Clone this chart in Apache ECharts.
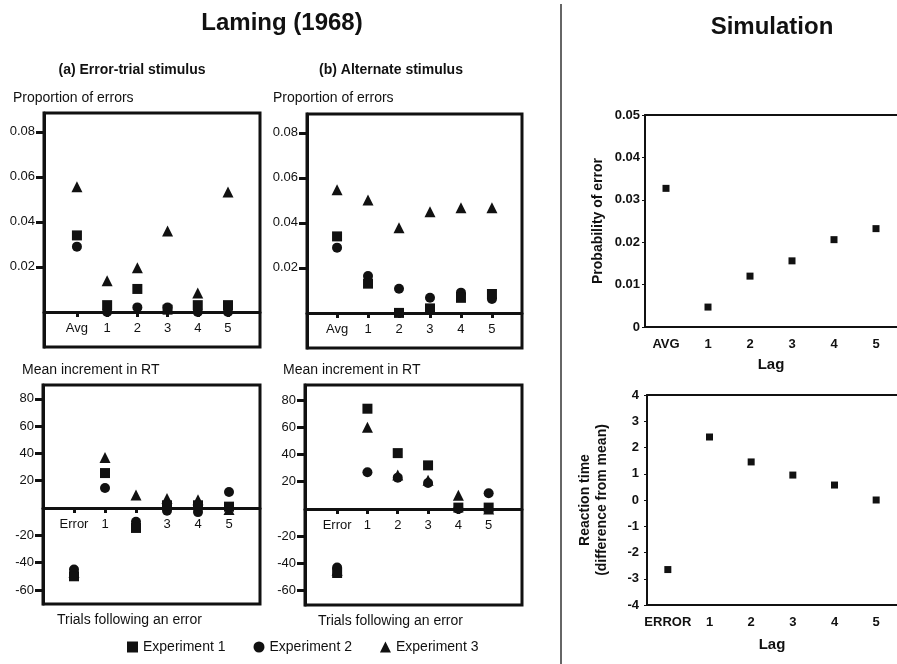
<!DOCTYPE html>
<html>
<head>
<meta charset="utf-8">
<title>Laming (1968) vs Simulation</title>
<script src="https://cdn.jsdelivr.net/npm/echarts@6/dist/echarts.min.js"></script>
<style>
  html, body { margin: 0; padding: 0; background: #fff; }
  #chart { width: 897px; height: 664px; }
</style>
</head>
<body>
<div id="chart"></div>
<script>
// categories
var lamingCats = ['Avg', '1', '2', '3', '4', '5'];
var rtCats = ['Error', '1', '2', '3', '4', '5'];
var simErrCats = ['AVG', '1', '2', '3', '4', '5'];
var simRtCats = ['ERROR', '1', '2', '3', '4', '5'];
var expNames = ['Experiment 1', 'Experiment 2', 'Experiment 3'];

// (a) error-trial stimulus, proportion of errors
var aErrExp1 = [0.034, 0.003, 0.0102, 0.001, 0.003, 0.003];
var aErrExp2 = [0.029, 0.000, 0.002, 0.002, 0.000, 0.000];
var aErrExp3 = [0.0556, 0.0138, 0.0196, 0.036, 0.0084, 0.0533];
// (b) alternate stimulus, proportion of errors
var bErrExp1 = [0.034, 0.013, 0.000, 0.002, 0.0067, 0.0084];
var bErrExp2 = [0.029, 0.0164, 0.0107, 0.0067, 0.009, 0.0062];
var bErrExp3 = [0.0547, 0.0502, 0.0378, 0.045, 0.0467, 0.0467];
// (a) mean increment in RT
var aRtExp1 = [-50, 25.6, -14.6, 2, 2, 1];
var aRtExp2 = [-45, 14.6, -10, -2, -3, 11.7];
var aRtExp3 = [-47, 37, 9.5, 7, 6, -1];
// (b) mean increment in RT
var bRtExp1 = [-47, 73.6, 41, 32, 1, 1];
var bRtExp2 = [-43, 27, 23, 19, 0, 11.5];
var bRtExp3 = [-45, 60, 25, 21, 10, 0];
// simulation
var simErr = [0.0327, 0.0047, 0.012, 0.0156, 0.0206, 0.0232];
var simRt = [-2.65, 2.4, 1.45, 0.95, 0.57, 0.0];

// tick values
var catIdx = [0, 1, 2, 3, 4, 5];
var errTicks = [0.02, 0.04, 0.06, 0.08];
var rtTicks = [-60, -40, -20, 20, 40, 60, 80];

var font = "'Liberation Sans', Arial, Helvetica, sans-serif";
var ink = '#111';
var H = 664;

var chart = echarts.init(document.getElementById('chart'));

// panel boxes: left, right, top, bottom (px) and y range
var panels = [
    { l: 44, r: 637, t: 113, b: 317, ymin: -0.0156, ymax: 0.0884, xmin: -1.09, xmax: 6.06 },
    { l: 307, r: 375, t: 114, b: 316, ymin: -0.0156, ymax: 0.0884, xmin: -0.97, xmax: 5.97 },
    { l: 43, r: 637, t: 385, b: 60, ymin: -70.3, ymax: 90.1, xmin: -1.0, xmax: 6.0 },
    { l: 305, r: 375, t: 385, b: 59, ymin: -70.5, ymax: 91, xmin: -1.06, xmax: 6.1 }
];

function lamingX(i, cats) {
    var p = panels[i];
    var h = H - p.t - p.b;
    // lift the axis from the box bottom up to the zero line
    var lift = -p.ymin / (p.ymax - p.ymin) * h;
    return {
        type: 'value', gridIndex: i, min: p.xmin, max: p.xmax, position: 'bottom', offset: -lift,
        axisLine: { onZero: false, lineStyle: { color: ink, width: 3 } },
        axisTick: { customValues: catIdx, length: 5, lineStyle: { color: ink, width: 3 } },
        axisLabel: {
            customValues: catIdx, margin: 10, color: ink, fontSize: 13, fontFamily: font,
            formatter: function (v) { return cats[v]; }
        },
        splitLine: { show: false }
    };
}

function lamingY(i, ticks, fmt) {
    var p = panels[i];
    return {
        type: 'value', gridIndex: i, min: p.ymin, max: p.ymax,
        axisLine: { show: true, onZero: false, lineStyle: { color: ink, width: 3 } },
        axisTick: { customValues: ticks, length: 8, lineStyle: { color: ink, width: 3 } },
        axisLabel: { customValues: ticks, margin: 9, color: ink, fontSize: 13, fontFamily: font, formatter: fmt },
        splitLine: { show: false }
    };
}

var symbols = ['rect', 'circle', 'triangle'];
var sizes = [10, 10, 11];

function lamingSeries(grid, sets) {
    // draw Experiment 3 first so squares/circles sit on top, as in the figure
    var out = [];
    [2, 1, 0].forEach(function (k) {
        out.push({
            type: 'scatter', name: expNames[k], xAxisIndex: grid, yAxisIndex: grid,
            symbol: symbols[k], symbolSize: sizes[k],
            itemStyle: { color: ink, opacity: 1 },
            data: sets[k].map(function (v, i) { return [i, v]; })
        });
    });
    return out;
}

function boxGrid(l, r, t, b, w) {
    return { left: l, right: r, top: t, bottom: b, show: w > 0, borderColor: ink, borderWidth: w, backgroundColor: 'transparent' };
}

var errFmt = function (v) { return v.toFixed(2); };
var rtFmt = function (v) { return String(v); };

function txt(x, y, s, size, weight, align) {
    return {
        type: 'text', x: x, y: y,
        style: { text: s, fill: ink, font: (weight || 'normal') + ' ' + size + 'px ' + font, textAlign: align || 'left', textVerticalAlign: 'middle' }
    };
}

function simX(i, cats, gap) {
    return {
        type: 'category', gridIndex: i, data: cats, boundaryGap: true,
        axisLine: { onZero: false, lineStyle: { color: ink, width: 2 } },
        axisTick: { show: false },
        axisLabel: { interval: 0, margin: 11, color: ink, fontSize: 13, fontWeight: 'bold', fontFamily: font },
        name: 'Lag', nameLocation: 'middle', nameGap: gap,
        nameTextStyle: { color: ink, fontSize: 15, fontWeight: 'bold', fontFamily: font }
    };
}

// top edge of the simulation boxes (their right edge runs off the page)
function simTop(i, cats) {
    return {
        type: 'category', gridIndex: i, data: cats, position: 'top',
        axisLine: { onZero: false, lineStyle: { color: ink, width: 2 } },
        axisTick: { show: false }, axisLabel: { show: false }
    };
}

var option = {
    backgroundColor: '#fff',
    animation: false,
    textStyle: { fontFamily: font },
    grid: panels.map(function (p) { return boxGrid(p.l, p.r, p.t, p.b, 3); }).concat([
        boxGrid(645, -3, 115, 337, 0),
        boxGrid(647, -3, 395, 59, 0)
    ]),
    xAxis: [
        lamingX(0, lamingCats),
        lamingX(1, lamingCats),
        lamingX(2, rtCats),
        lamingX(3, rtCats),
        simX(4, simErrCats, 30),
        simX(5, simRtCats, 32),
        simTop(4, simErrCats),
        simTop(5, simRtCats)
    ],
    yAxis: [
        lamingY(0, errTicks, errFmt),
        lamingY(1, errTicks, errFmt),
        lamingY(2, rtTicks, rtFmt),
        lamingY(3, rtTicks, rtFmt),
        {
            type: 'value', gridIndex: 4, min: 0, max: 0.05, interval: 0.01,
            axisLine: { show: true, onZero: false, lineStyle: { color: ink, width: 2 } },
            axisTick: { show: true, length: 3, lineStyle: { color: ink } },
            axisLabel: { margin: 5, color: ink, fontSize: 13, fontWeight: 'bold', fontFamily: font,
                formatter: function (v) { return v === 0 ? '0' : v.toFixed(2); } },
            splitLine: { show: false },
            name: 'Probability of error', nameLocation: 'middle', nameGap: 40, nameRotate: 90,
            nameTextStyle: { color: ink, fontSize: 14, fontWeight: 'bold', fontFamily: font }
        },
        {
            type: 'value', gridIndex: 5, min: -4, max: 4, interval: 1,
            axisLine: { show: true, onZero: false, lineStyle: { color: ink, width: 2 } },
            axisTick: { show: true, length: 3, lineStyle: { color: ink } },
            axisLabel: { margin: 8, color: ink, fontSize: 13, fontWeight: 'bold', fontFamily: font },
            splitLine: { show: false },
            name: 'Reaction time\n(difference from mean)', nameLocation: 'middle', nameGap: 36, nameRotate: 90,
            nameTextStyle: { color: ink, fontSize: 14, fontWeight: 'bold', fontFamily: font, lineHeight: 17 }
        }
    ],
    legend: {
        data: expNames, left: 122, top: 635, itemWidth: 11, itemHeight: 11, itemGap: 28,
        textStyle: { color: ink, fontSize: 14, fontFamily: font }
    },
    graphic: [
        { type: 'line', shape: { x1: 561, y1: 4, x2: 561, y2: 664 }, style: { stroke: '#333', lineWidth: 1.5 } },
        txt(282, 23, 'Laming (1968)', 24, 'bold', 'center'),
        txt(772, 27, 'Simulation', 24, 'bold', 'center'),
        txt(132, 70, '(a) Error-trial stimulus', 14, 'bold', 'center'),
        txt(391, 70, '(b) Alternate stimulus', 14, 'bold', 'center'),
        txt(13, 98, 'Proportion of errors', 14),
        txt(273, 98, 'Proportion of errors', 14),
        txt(22, 370, 'Mean increment in RT', 14),
        txt(283, 370, 'Mean increment in RT', 14),
        txt(57, 620, 'Trials following an error', 14),
        txt(318, 621, 'Trials following an error', 14)
    ],
    series: [].concat(
        lamingSeries(0, [aErrExp1, aErrExp2, aErrExp3]),
        lamingSeries(1, [bErrExp1, bErrExp2, bErrExp3]),
        lamingSeries(2, [aRtExp1, aRtExp2, aRtExp3]),
        lamingSeries(3, [bRtExp1, bRtExp2, bRtExp3]),
        [
            { type: 'scatter', xAxisIndex: 4, yAxisIndex: 4, symbol: 'rect', symbolSize: 7,
              itemStyle: { color: ink, opacity: 1 }, data: simErr },
            { type: 'scatter', xAxisIndex: 5, yAxisIndex: 5, symbol: 'rect', symbolSize: 7,
              itemStyle: { color: ink, opacity: 1 }, data: simRt }
        ]
    )
};

chart.setOption(option);
</script>
</body>
</html>
